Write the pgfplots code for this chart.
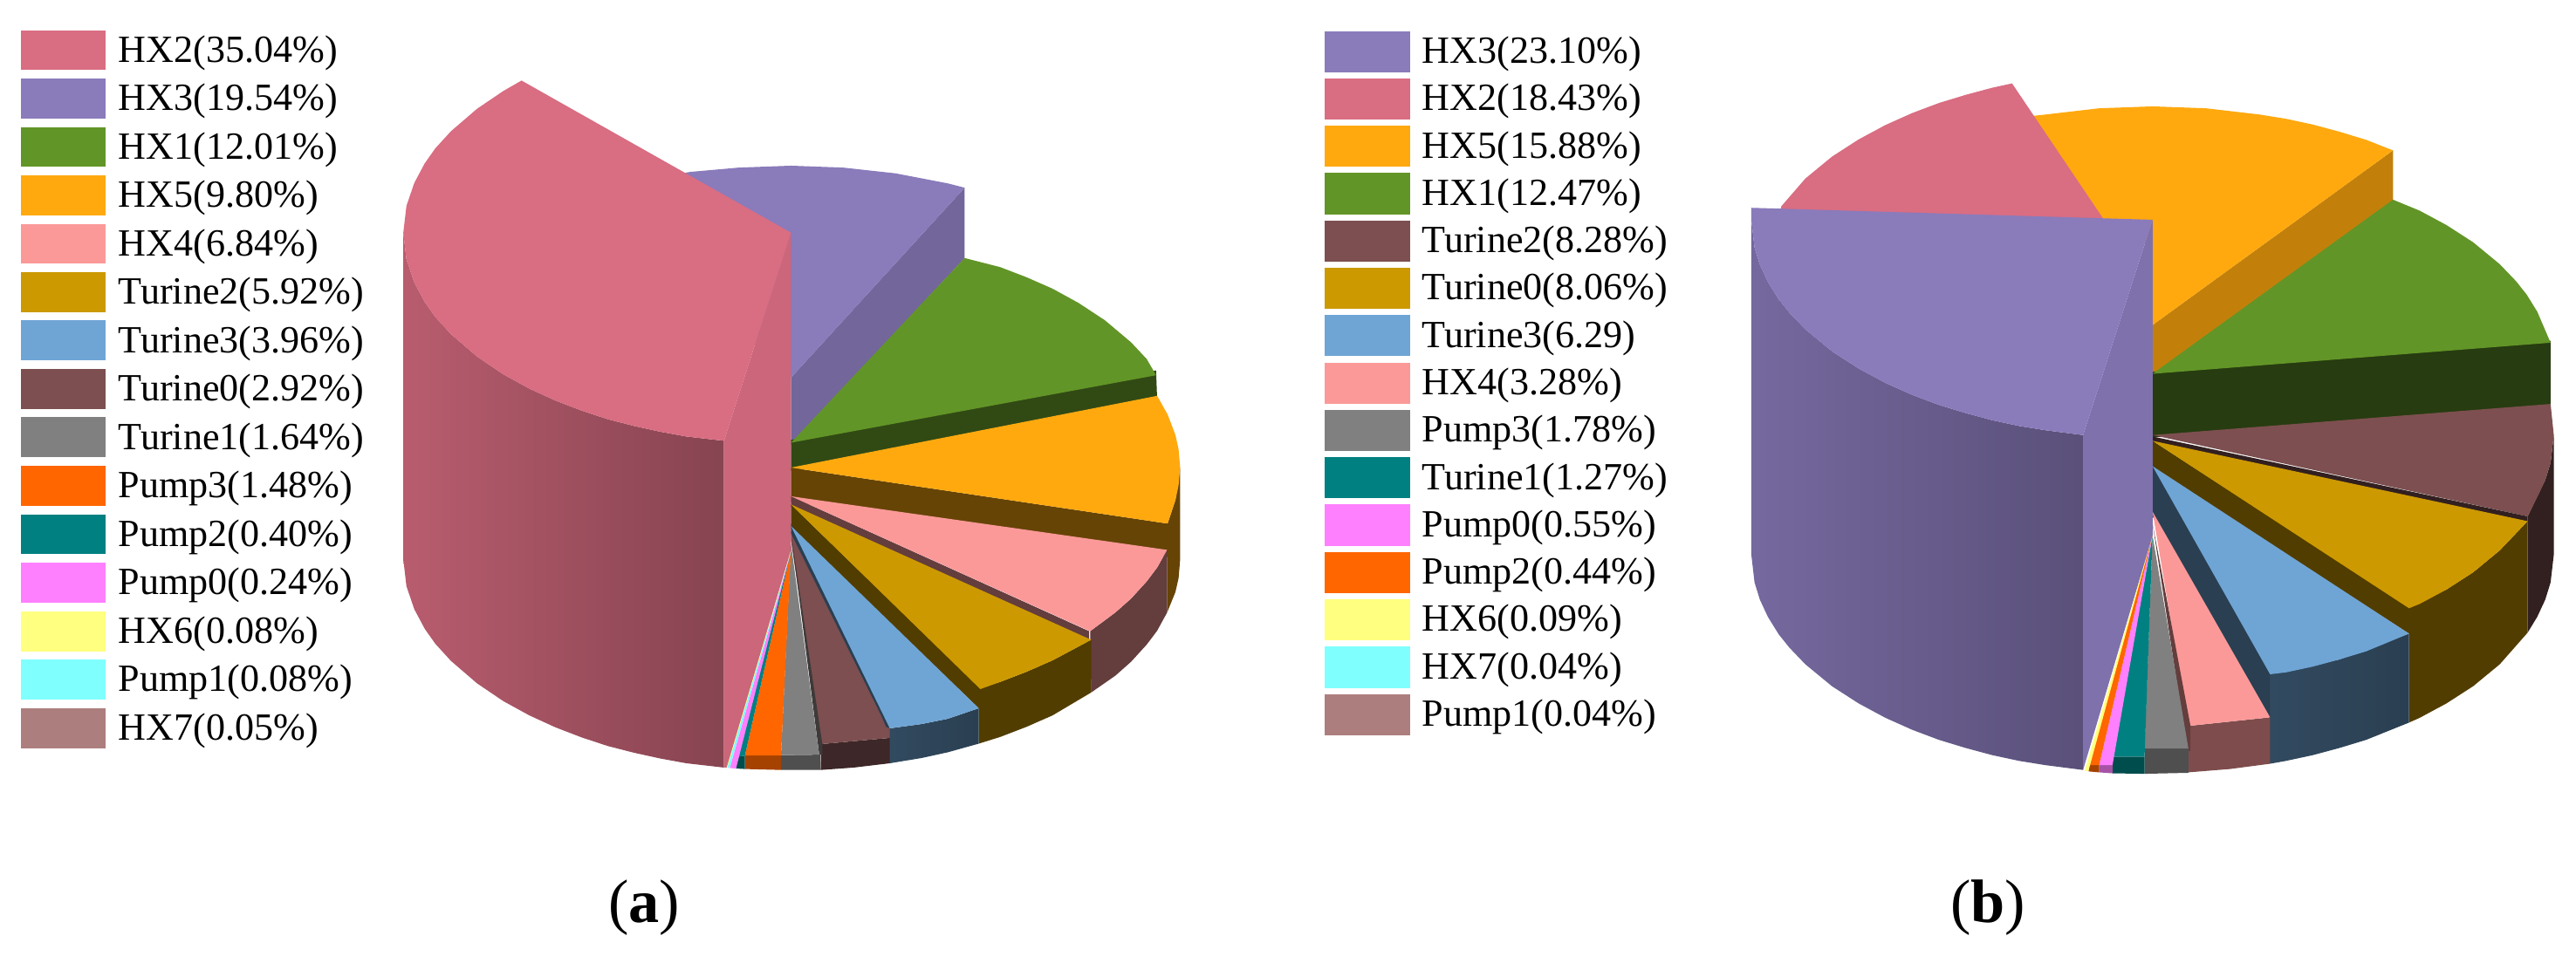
\documentclass[border=0pt]{standalone}
\usepackage{fontspec}
\setmainfont{Liberation Serif}
\usepackage{pgfplots}
\pgfplotsset{compat=1.18}

\definecolor{hxtwo}{HTML}{D96D82}
\definecolor{hxthree}{HTML}{8A7BBB}
\definecolor{hxone}{HTML}{629527}
\definecolor{hxfive}{HTML}{FFA90F}
\definecolor{hxfour}{HTML}{FB9999}
\definecolor{turtwo}{HTML}{CC9900}
\definecolor{turthree}{HTML}{6FA5D5}
\definecolor{turzero}{HTML}{7D4F50}
\definecolor{turone}{HTML}{808080}
\definecolor{pumpthree}{HTML}{FF6600}
\definecolor{pumptwo}{HTML}{008080}
\definecolor{pumpzero}{HTML}{FF80FF}
\definecolor{hxsix}{HTML}{FFFF80}
\definecolor{pumpone}{HTML}{80FFFF}
\definecolor{hxseven}{HTML}{AD7E7E}
\definecolor{edgedark}{HTML}{3F3A3A}

\pgfplotsset{
  sheet/.style={scale only axis, hide axis, y dir=reverse, clip=false,
    anchor=south west},
  pie/.style={sheet, xmin=0, xmax=1568, ymin=0, ymax=1568},
}
\tikzset{f/.style={fill=#1, draw=none}}

% one legend row: colour, x0, x1, y0, y1, text x, baseline y, text
\newcommand{\legrow}[8]{%
  \addplot[fill=#1, draw=white, line width=0.4pt]
    coordinates {(#2,#4)(#3,#4)(#3,#5)(#2,#5)(#2,#4)};
  \node[anchor=base west, inner sep=0pt, font=\fontsize{12.55}{14}\selectfont]
    at (axis cs:#6,#7) {#8};
}

\begin{document}
\begin{tikzpicture}
  \useasboundingbox (0,0) rectangle (29.52cm,11.04cm);

  % legends and captions, in pixels of the sheet
  \begin{axis}[sheet, at={(0,0)}, width=29.52cm, height=11.04cm,
      xmin=0, xmax=2952, ymin=0, ymax=1104]
    \legrow{hxtwo}{23}{122}{34}{81}{135}{72}{HX2(35.04\%)}
    \legrow{hxthree}{23}{122}{89}{137}{135}{127}{HX3(19.54\%)}
    \legrow{hxone}{23}{122}{145}{192}{135}{183}{HX1(12.01\%)}
    \legrow{hxfive}{23}{122}{200}{248}{135}{238}{HX5(9.80\%)}
    \legrow{hxfour}{23}{122}{256}{303}{135}{294}{HX4(6.84\%)}
    \legrow{turtwo}{23}{122}{311}{359}{135}{349}{Turine2(5.92\%)}
    \legrow{turthree}{23}{122}{366}{414}{135}{405}{Turine3(3.96\%)}
    \legrow{turzero}{23}{122}{422}{470}{135}{460}{Turine0(2.92\%)}
    \legrow{turone}{23}{122}{477}{525}{135}{516}{Turine1(1.64\%)}
    \legrow{pumpthree}{23}{122}{533}{581}{135}{571}{Pump3(1.48\%)}
    \legrow{pumptwo}{23}{122}{589}{636}{135}{627}{Pump2(0.40\%)}
    \legrow{pumpzero}{23}{122}{644}{692}{135}{682}{Pump0(0.24\%)}
    \legrow{hxsix}{23}{122}{700}{748}{135}{738}{HX6(0.08\%)}
    \legrow{pumpone}{23}{122}{755}{803}{135}{793}{Pump1(0.08\%)}
    \legrow{hxseven}{23}{122}{811}{859}{135}{849}{HX7(0.05\%)}

    \legrow{hxthree}{1517}{1617}{35}{84}{1629}{73}{HX3(23.10\%)}
    \legrow{hxtwo}{1517}{1617}{89}{138}{1629}{127}{HX2(18.43\%)}
    \legrow{hxfive}{1517}{1617}{143}{192}{1629}{182}{HX5(15.88\%)}
    \legrow{hxone}{1517}{1617}{197}{247}{1629}{236}{HX1(12.47\%)}
    \legrow{turzero}{1517}{1617}{252}{301}{1629}{290}{Turine2(8.28\%)}
    \legrow{turtwo}{1517}{1617}{306}{355}{1629}{344}{Turine0(8.06\%)}
    \legrow{turthree}{1517}{1617}{360}{409}{1629}{399}{Turine3(6.29)}
    \legrow{hxfour}{1517}{1617}{415}{464}{1629}{453}{HX4(3.28\%)}
    \legrow{turone}{1517}{1617}{469}{518}{1629}{507}{Pump3(1.78\%)}
    \legrow{pumptwo}{1517}{1617}{523}{572}{1629}{562}{Turine1(1.27\%)}
    \legrow{pumpzero}{1517}{1617}{577}{627}{1629}{616}{Pump0(0.55\%)}
    \legrow{pumpthree}{1517}{1617}{632}{681}{1629}{670}{Pump2(0.44\%)}
    \legrow{hxsix}{1517}{1617}{686}{735}{1629}{724}{HX6(0.09\%)}
    \legrow{pumpone}{1517}{1617}{740}{790}{1629}{779}{HX7(0.04\%)}
    \legrow{hxseven}{1517}{1617}{795}{844}{1629}{833}{Pump1(0.04\%)}

    \node[anchor=base, font=\fontsize{20}{24}\selectfont] at (axis cs:738,1058) {(\textbf{a})};
    \node[anchor=base, font=\fontsize{20}{24}\selectfont] at (axis cs:2278,1058) {(\textbf{b})};
  \end{axis}

  % pie (a)
  \begin{axis}[pie, at={(4.40cm,1.84cm)}, width=9.4cm, height=8.6cm]
    \addplot[f={hxthree!83!black}] coordinates {(1110,283)(1110,430)(778,820)(778,680)};
    \addplot[f=hxthree] coordinates {(560,255)(585,250)(678,241)(778,237)(878,241)(978,253)(1078,274)(1110,283)(778,680)(700,600)};
    \addplot[f={hxone!50!black}] coordinates {(778,810)(1476,665)(1478,725)(778,875)};
    \addplot[f=hxone] coordinates {(778,816)(1110,430)(1178,449)(1228,470)(1278,494)(1328,524)(1378,560)(1428,606)(1458,641)(1476,675)};
    \addplot[f={hxfive!40!black}] coordinates {(778,868)(1498,985)(1513,936)(1522,868)(1522,1060)(1519,1099)(1513,1128)(1497,1171)(1497,1055)(778,940)};
    \addplot[f=hxfive] coordinates {(778,868)(1478,718)(1498,757)(1513,800)(1519,830)(1522,868)(1519,905)(1513,936)(1498,985)};
    \addplot[f={hxfour!40!black}] coordinates {(778,928)(1348,1210)(1348,1236)(778,950)};
    \addplot[f={hxfour!40!black}] coordinates {(1497,1040)(1478,1077)(1458,1106)(1428,1142)(1398,1171)(1350,1210)(1352,1338)(1398,1303)(1428,1274)(1458,1238)(1478,1209)(1497,1171)};
    \addplot[f=hxfour] coordinates {(778,928)(1497,1040)(1478,1077)(1458,1106)(1428,1142)(1398,1171)(1350,1210)};
    \addplot[f={turtwo!40!black}] coordinates {(778,945)(1140,1329)(1178,1316)(1228,1295)(1278,1271)(1352,1228)(1352,1338)(1278,1386)(1228,1410)(1178,1431)(1137,1445)(1137,1371)(778,995)};
    \addplot[f=turtwo] coordinates {(778,945)(1352,1228)(1278,1271)(1228,1295)(1178,1316)(1140,1331)};
    \addplot[left color=turthree!45!black, right color=turthree!38!black, draw=none]
      coordinates {(967,1413)(1028,1404)(1078,1393)(1137,1371)(1137,1445)(1078,1463)(1028,1475)(967,1486)};
    \addplot[f={turzero!50!black}] coordinates {(835,1446)(967,1433)(967,1486)(898,1495)(835,1500)};
    \addplot[f=turzero] coordinates {(778,1000)(954,1380)(967,1413)(967,1433)(835,1446)(778,1020)};
    \addplot[f={turthree!38!black}] coordinates {(778,985)(967,1413)(960,1410)(950,1385)(778,1005)};
    \addplot[f=turthree] coordinates {(778,990)(1137,1371)(1078,1393)(1028,1404)(967,1413)};
    \addplot[f=edgedark] coordinates {(778,1005)(838,1446)(838,1468)(832,1468)};
    \addplot[f={turone!62!black}] coordinates {(759,1469)(834,1468)(835,1500)(759,1500)};
    \addplot[f=turone] coordinates {(778,1027)(832,1468)(759,1469)};
    \addplot[f={pumpthree!65!black}] coordinates {(690,1470)(759,1470)(759,1500)(690,1498)};
    \addplot[f=pumpthree] coordinates {(778,1043)(759,1470)(690,1470)};
    \addplot[f={pumptwo!60!black}] coordinates {(673,1473)(690,1470)(690,1498)(673,1497)};
    \addplot[f=pumptwo] coordinates {(778,1043)(690,1470)(673,1473)};
    \addplot[f=pumpzero] coordinates {(778,1043)(673,1497)(661,1496)};
    \addplot[f=pumpone] coordinates {(778,1043)(661,1496)(656,1496)};
    \addplot[f=hxsix] coordinates {(778,1043)(656,1496)(653,1495)};
    % HX2, in front
    \addplot[left color=hxtwo!85!black, right color=hxtwo!62!black, draw=none]
      coordinates {(37,377)(43,433)(58,481)(78,522)(98,553)(128,589)(178,636)(228,673)(278,703)(328,728)(378,749)(428,767)(478,781)(528,793)(578,803)(650,812)
        (650,1495)(578,1486)(528,1476)(478,1464)(428,1450)(378,1432)(328,1411)(278,1386)(228,1356)(178,1319)(128,1272)(98,1236)(78,1205)(58,1164)(43,1116)(37,1060)};
    \addplot[f={hxtwo!94!black}] coordinates {(650,812)(778,377)(778,1040)(655,1495)(650,1495)};
    \addplot[f=hxtwo] coordinates {(778,377)(263,59)(228,81)(178,118)(128,165)(98,201)(78,232)(58,273)(43,321)(37,377)(43,433)(58,481)(78,522)(98,553)(128,589)(178,636)(228,673)(278,703)(328,728)(378,749)(428,767)(478,781)(528,793)(578,803)(650,812)};
  \end{axis}

  % pie (b)
  \begin{axis}[pie, at={(19.80cm,1.84cm)}, width=9.6cm, height=8.6cm]
    \addplot[f={hxfive!76!black}] coordinates {(1245,205)(1245,310)(795,675)(795,570)};
    \addplot[f=hxfive] coordinates {(570,133)(595,130)(695,117)(795,113)(895,117)(995,130)(1045,139)(1095,151)(1145,166)(1195,183)(1245,205)(795,570)(795,400)(700,400)(700,345)};
    \addplot[f=hxtwo] coordinates {(532,65)(704,350)(704,420)(100,420)(100,322)(145,264)(195,218)(245,182)(295,152)(345,127)(395,106)(445,89)(495,74)};
    \addplot[f={hxone!40!black}] coordinates {(795,668)(1540,603)(1540,740)(795,805)};
    \addplot[f=hxone] coordinates {(795,672)(1245,308)(1295,331)(1345,361)(1395,397)(1445,443)(1475,478)(1495,506)(1515,542)(1540,607)};
    \addplot[f={turzero!40!black}] coordinates {(1497,970)(1530,894)(1540,858)(1546,800)(1546,1050)(1540,1108)(1530,1144)(1515,1180)(1497,1213)};
    \addplot[f=turzero] coordinates {(795,800)(1540,735)(1546,800)(1540,858)(1530,894)(1515,930)(1497,970)};
    \addplot[f={turzero!40!black}] coordinates {(795,803)(1497,970)(1497,982)(795,815)};
    \addplot[f={turtwo!40!black}] coordinates {(795,812)(1275,1160)(1345,1123)(1395,1087)(1445,1041)(1497,980)(1497,1213)(1445,1279)(1395,1325)(1345,1361)(1295,1391)(1275,1401)(1275,1215)(795,870)};
    \addplot[f=turtwo] coordinates {(795,812)(1497,980)(1445,1041)(1395,1087)(1345,1123)(1295,1153)(1275,1162)};
    \addplot[left color=turthree!45!black, right color=turthree!38!black, draw=none]
      coordinates {(1015,1298)(1145,1269)(1275,1215)(1275,1401)(1195,1437)(1145,1454)(1095,1469)(1045,1481)(1015,1487)};
    \addplot[f={turthree!38!black}] coordinates {(795,860)(1015,1298)(1015,1395)(795,970)};
    \addplot[f=turthree] coordinates {(795,865)(1275,1215)(1195,1252)(1145,1269)(1095,1284)(1045,1296)(1015,1300)};
    \addplot[f={hxfour!50!black}] coordinates {(862,1408)(1015,1390)(1015,1487)(940,1498)(862,1505)};
    \addplot[f=hxfour] coordinates {(795,960)(1015,1390)(862,1408)};
    \addplot[f={hxfour!40!black}] coordinates {(795,985)(866,1408)(866,1460)(860,1460)};
    \addplot[f={turone!62!black}] coordinates {(780,1455)(862,1455)(862,1506)(780,1508)};
    \addplot[f=turone] coordinates {(795,1010)(862,1455)(780,1455)};
    \addplot[f={pumptwo!60!black}] coordinates {(720,1472)(780,1472)(780,1508)(720,1507)};
    \addplot[f=pumptwo] coordinates {(795,1010)(780,1472)(720,1472)};
    \addplot[f={pumpzero!65!black}] coordinates {(695,1490)(720,1490)(720,1507)(695,1505)};
    \addplot[f=pumpzero] coordinates {(795,1010)(720,1490)(695,1490)};
    \addplot[f={pumpthree!65!black}] coordinates {(675,1490)(695,1490)(695,1505)(675,1503)};
    \addplot[f=pumpthree] coordinates {(795,1010)(695,1490)(675,1490)};
    \addplot[f=hxsix] coordinates {(795,1010)(675,1502)(668,1502)};
    % HX3, in front
    \addplot[left color=hxthree!85!black, right color=hxthree!65!black, draw=none]
      coordinates {(44,350)(50,408)(60,444)(75,480)(95,516)(115,544)(145,579)(195,625)(245,661)(295,691)(345,716)(395,737)(445,754)(495,769)(545,781)(595,790)(665,800)
        (665,1500)(595,1490)(545,1481)(495,1469)(445,1454)(395,1437)(345,1416)(295,1391)(245,1361)(195,1325)(145,1279)(115,1244)(95,1216)(75,1180)(60,1144)(50,1108)(44,1050)};
    \addplot[f={hxthree!92!black}] coordinates {(665,800)(795,350)(795,1010)(665,1500)};
    \addplot[f=hxthree] coordinates {(44,325)(795,350)(665,800)(595,790)(545,781)(495,769)(445,754)(395,737)(345,716)(295,691)(245,661)(195,625)(145,579)(115,544)(95,516)(75,480)(60,444)(50,408)(44,350)};
  \end{axis}
\end{tikzpicture}
\end{document}
